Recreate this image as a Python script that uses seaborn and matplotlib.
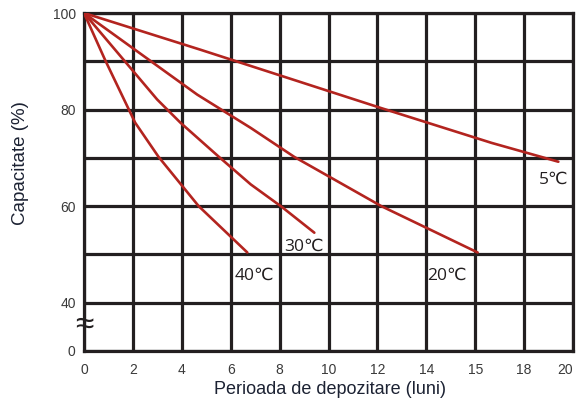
import numpy as np
import pandas as pd
import matplotlib
matplotlib.use("Agg")
import matplotlib.pyplot as plt
import seaborn as sns

# curves (x = months on the axis grid, y = capacity %)
x_5 = [0, 4.76, 12.16, 16.67, 19.4]
y_5 = [100, 92.4, 80.3, 73.1, 69.2]
x_20 = [0, 4.63, 6.82, 8.6, 12.16, 16.1]
y_20 = [100, 83.1, 76.2, 70.2, 60, 50.4]
x_30 = [0, 2.99, 3.94, 5.52, 6.82, 8.1, 9.42]
y_30 = [100, 82.1, 77.3, 70.2, 64.5, 59.8, 54.5]
x_40 = [0, 0.86, 2.09, 3.05, 4.69, 6.68]
y_40 = [100, 90.3, 77.3, 70.2, 60, 50.4]

series = {"5℃": (x_5, y_5), "20℃": (x_20, y_20),
          "30℃": (x_30, y_30), "40℃": (x_40, y_40)}

x_ticks = list(range(0, 21, 2))
x_ticklabels = ["0", "2", "4", "6", "8", "10", "12", "14", "15", "18", "20"]
y_ticks = [30, 40, 50, 60, 70, 80, 90, 100]   # 30 stands for the broken "0"
y_ticklabels = ["0", "40", "", "60", "", "80", "", "100"]

frames = []
for name, (xs, ys) in series.items():
    frames.append(pd.DataFrame({"luni": xs, "cap": ys, "temp": name}))
df = pd.concat(frames, ignore_index=True)

sns.set_style("white")
plt.rcParams["font.family"] = ["Liberation Sans", "DejaVu Sans"]

fig = plt.figure(figsize=(5.77, 4.04), dpi=100)
ax = fig.add_axes([0.1456, 0.1312, 0.8475, 0.8366])

grid_col = "#231f20"
red = "#b3241f"

ax.set_xlim(0, 20)
ax.set_ylim(30, 100)
ax.set_xticks(x_ticks)
ax.set_yticks(y_ticks)
ax.grid(True, color=grid_col, linewidth=2.3)
ax.set_axisbelow(True)
for sp in ax.spines.values():
    sp.set_color(grid_col)
    sp.set_linewidth(2.3)
    sp.set_zorder(0.5)

sns.lineplot(data=df, x="luni", y="cap", hue="temp", sort=False,
             palette=[red] * 4, linewidth=1.9, legend=False, ax=ax,
             estimator=None, zorder=3)

tick_font = ["Liberation Sans Narrow", "DejaVu Sans Condensed", "Liberation Sans"]
ax.set_xticklabels(x_ticklabels, family=tick_font, fontsize=10, color="#3a3a3a")
ax.set_yticklabels(y_ticklabels, family=tick_font, fontsize=10, color="#3a3a3a")
ax.get_xticklabels()[-1].set_ha("right")
ax.tick_params(axis="both", length=0)
ax.tick_params(axis="x", pad=9)
ax.tick_params(axis="y", pad=6)

lab_col = "#1c2233"
ax.set_xlabel("Perioada de depozitare (luni)", fontsize=13, color=lab_col)
ax.set_ylabel("Capacitate (%)", fontsize=13.5, color=lab_col)
ax.xaxis.set_label_coords(0.503, -0.09)
ax.yaxis.set_label_coords(-0.112, 0.556)

# curve labels
lab_font = ["Open Sans", "DejaVu Sans"]
lab_kw = dict(ha="center", va="center", fontsize=12.5, family=lab_font, color="#231f20")
ax.text(19.2, 65.4, "5℃", **lab_kw)
ax.text(14.85, 45.6, "20℃", **lab_kw)
ax.text(9.0, 51.6, "30℃", **lab_kw)
ax.text(6.95, 45.6, "40℃", **lab_kw)

# axis break mark
ax.text(0.0, 35.4, "≈", ha="center", va="center", fontsize=24, color="#231f20",
        clip_on=False, zorder=5)

fig.savefig("out.png", dpi=100)
